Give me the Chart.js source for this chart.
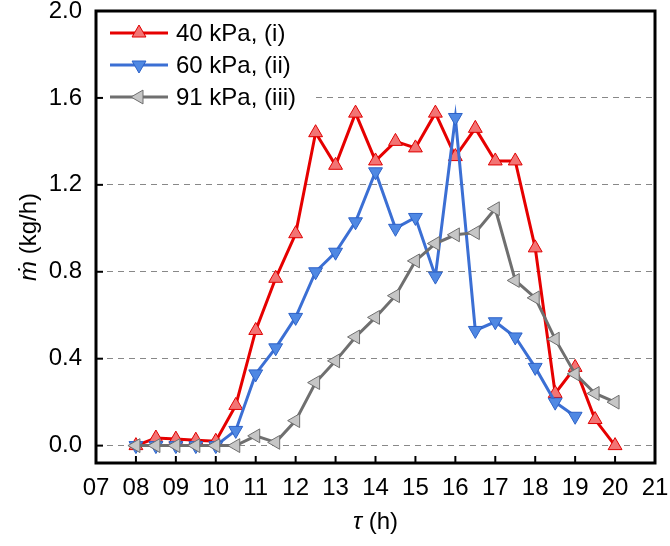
<!DOCTYPE html>
<html lang="en">
<head>
    <meta charset="UTF-8">
    <title>Mass flow rate</title>
    <script src="https://cdn.jsdelivr.net/npm/chart.js"></script>
    <style>
        body { margin: 0; background: #fff; }
        .chart-container { width: 670px; height: 546px; }
    </style>
</head>
<body>
    <div class="chart-container">
        <canvas id="flowChart"></canvas>
    </div>
    <script>
        // time of day [h]
        const times40 = [8, 8.5, 9, 9.5, 10, 10.5, 11, 11.5, 12, 12.5, 13, 13.5, 14, 14.5, 15, 15.5, 16, 16.5, 17, 17.5, 18, 18.5, 19, 19.5, 20];
        const times60 = [8, 8.5, 9, 9.5, 10, 10.5, 11, 11.5, 12, 12.5, 13, 13.5, 14, 14.5, 15, 15.5, 16, 16.5, 17, 17.5, 18, 18.5, 19];
        const times91 = [8, 8.5, 9, 9.5, 10, 10.5, 11, 11.5, 12, 12.5, 13, 13.5, 14, 14.5, 15, 15.5, 16, 16.5, 17, 17.5, 18, 18.5, 19, 19.5, 20];

        // mass flow rate [kg/h]
        const flow40 = [0.0, 0.035, 0.03, 0.025, 0.02, 0.185, 0.53, 0.77, 0.975, 1.44, 1.29, 1.53, 1.31, 1.40, 1.37, 1.53, 1.33, 1.46, 1.31, 1.31, 0.91, 0.24, 0.36, 0.12, 0.0];
        const flow60 = [0.0, 0.0, 0.0, 0.0, 0.0, 0.07, 0.33, 0.45, 0.59, 0.80, 0.89, 1.03, 1.26, 1.00, 1.05, 0.78, 1.51, 0.53, 0.57, 0.50, 0.36, 0.20, 0.135];
        const flow91 = [0.0, 0.0, 0.0, 0.0, 0.0, 0.0, 0.045, 0.015, 0.115, 0.29, 0.39, 0.50, 0.59, 0.69, 0.85, 0.93, 0.97, 0.98, 1.09, 0.76, 0.68, 0.49, 0.33, 0.24, 0.20];

        const seriesLabels = ['40 kPa, (i)', '60 kPa, (ii)', '91 kPa, (iii)'];
        const xTicks = [7, 8, 9, 10, 11, 12, 13, 14, 15, 16, 17, 18, 19, 20, 21];
        const yTicks = [0.0, 0.4, 0.8, 1.2, 1.6, 2.0];

        const FONT = 'Liberation Sans, Arial, sans-serif';

        function toPoints(xs, ys) {
            return xs.map((x, i) => ({ x: x, y: ys[i] }));
        }

        // no extra room for overflowing tick labels, the plot area is fixed by layout padding
        function noLabelPadding(s) {
            s.paddingTop = 0;
            s.paddingBottom = 0;
            s.paddingLeft = 0;
            s.paddingRight = 0;
        }

        function drawMarker(ctx, ds, x, y) {
            ctx.save();
            ctx.fillStyle = ds.pointBackgroundColor;
            ctx.strokeStyle = ds.pointBorderColor;
            ctx.lineWidth = ds.pointBorderWidth;
            Chart.helpers.drawPoint(ctx, {
                pointStyle: ds.pointStyle,
                rotation: ds.pointRotation,
                radius: ds.pointRadius,
                borderWidth: ds.pointBorderWidth
            }, x, y);
            ctx.restore();
        }

        // legend drawn inside the plot, line + marker like the original
        const insideLegend = {
            id: 'insideLegend',
            afterDatasetsDraw(chart) {
                const ctx = chart.ctx;
                const area = chart.chartArea;
                ctx.save();
                ctx.fillStyle = '#fff';
                ctx.fillRect(area.left + 7, area.top + 3, 208, 100);
                const sets = chart.data.datasets;
                sets.forEach((ds, i) => {
                    const y = area.top + 22 + i * 32;
                    ctx.strokeStyle = ds.borderColor;
                    ctx.lineWidth = ds.borderWidth;
                    ctx.beginPath();
                    ctx.moveTo(area.left + 14, y);
                    ctx.lineTo(area.left + 72, y);
                    ctx.stroke();
                    drawMarker(ctx, ds, area.left + 43, y);
                    ctx.fillStyle = '#000';
                    ctx.font = '24px ' + FONT;
                    ctx.textBaseline = 'middle';
                    ctx.textAlign = 'left';
                    ctx.fillText(ds.label, area.left + 80, y + 1);
                });
                ctx.restore();
            }
        };

        // frame, inside ticks and axis titles
        const frameAndTitles = {
            id: 'frameAndTitles',
            afterDraw(chart) {
                const ctx = chart.ctx;
                const area = chart.chartArea;
                const xs = chart.scales.x;
                const ys = chart.scales.y;
                ctx.save();
                ctx.strokeStyle = '#000';
                ctx.lineWidth = 2;
                xTicks.forEach(v => {
                    const px = xs.getPixelForValue(v);
                    ctx.beginPath();
                    ctx.moveTo(px, area.bottom);
                    ctx.lineTo(px, area.bottom - 7);
                    ctx.stroke();
                });
                yTicks.forEach(v => {
                    const py = ys.getPixelForValue(v);
                    ctx.beginPath();
                    ctx.moveTo(area.left, py);
                    ctx.lineTo(area.left + 7, py);
                    ctx.stroke();
                });
                ctx.lineWidth = 3;
                ctx.strokeRect(area.left, area.top, area.right - area.left, area.bottom - area.top);

                // x title: tau (h)
                ctx.fillStyle = '#000';
                ctx.textBaseline = 'middle';
                ctx.textAlign = 'left';
                const italic = 'italic 24px ' + FONT;
                const normal = '24px ' + FONT;
                ctx.font = italic;
                const wTau = ctx.measureText('τ').width;
                ctx.font = normal;
                const wRest = ctx.measureText(' (h)').width;
                let cx = (area.left + area.right) / 2 - (wTau + wRest) / 2;
                ctx.font = italic;
                ctx.fillText('τ', cx, 522);
                ctx.font = normal;
                ctx.fillText(' (h)', cx + wTau, 522);

                // y title: m-dot (kg/h)
                ctx.translate(29, (area.top + area.bottom) / 2);
                ctx.rotate(-Math.PI / 2);
                ctx.font = italic;
                const wM = ctx.measureText('ṁ').width;
                ctx.font = normal;
                const wUnit = ctx.measureText(' (kg/h)').width;
                cx = -(wM + wUnit) / 2;
                ctx.font = italic;
                ctx.fillText('ṁ', cx, 0);
                ctx.font = normal;
                ctx.fillText(' (kg/h)', cx + wM, 0);
                ctx.restore();
            }
        };

        const ctx = document.getElementById('flowChart').getContext('2d');
        const flowChart = new Chart(ctx, {
            type: 'line',
            data: {
                datasets: [{
                    label: seriesLabels[0],
                    data: toPoints(times40, flow40),
                    borderColor: '#E60000',
                    borderWidth: 3,
                    pointStyle: 'triangle',
                    pointRotation: 0,
                    pointRadius: 8,
                    pointBackgroundColor: '#F27474',
                    pointBorderColor: '#E00000',
                    pointBorderWidth: 1,
                    order: 3
                }, {
                    label: seriesLabels[1],
                    data: toPoints(times60, flow60),
                    borderColor: '#3B6FD4',
                    borderWidth: 3,
                    pointStyle: 'triangle',
                    pointRotation: 180,
                    pointRadius: 8,
                    pointBackgroundColor: '#4F88E3',
                    pointBorderColor: '#2D62C8',
                    pointBorderWidth: 1,
                    order: 2
                }, {
                    label: seriesLabels[2],
                    data: toPoints(times91, flow91),
                    borderColor: '#6F6F6F',
                    borderWidth: 3,
                    pointStyle: 'triangle',
                    pointRotation: 270,
                    pointRadius: 8,
                    pointBackgroundColor: '#C6C6C6',
                    pointBorderColor: '#6E6E6E',
                    pointBorderWidth: 1,
                    order: 1
                }]
            },
            options: {
                responsive: true,
                maintainAspectRatio: false,
                animation: false,
                layout: { padding: { top: 11, right: 15, left: 0, bottom: 0 } },
                plugins: {
                    legend: { display: false },
                    tooltip: { enabled: false }
                },
                elements: { line: { tension: 0, fill: false } },
                scales: {
                    x: {
                        type: 'linear',
                        min: 7,
                        max: 21,
                        afterBuildTicks: s => { s.ticks = xTicks.map(v => ({ value: v })); },
                        afterFit: s => { s.height = 83; noLabelPadding(s); },
                        grid: { display: false, drawTicks: false },
                        border: { display: false },
                        ticks: {
                            padding: 11,
                            color: '#000',
                            font: { family: FONT, size: 24 },
                            maxRotation: 0,
                            callback: v => String(v).padStart(2, '0')
                        }
                    },
                    y: {
                        min: -0.08,
                        max: 2.0,
                        afterBuildTicks: s => { s.ticks = yTicks.map(v => ({ value: v })); },
                        afterFit: s => { s.width = 96; noLabelPadding(s); },
                        grid: { color: '#888', lineWidth: 1, drawTicks: false },
                        border: { display: false, dash: [6, 5] },
                        ticks: {
                            padding: 14,
                            color: '#000',
                            font: { family: FONT, size: 24 },
                            callback: v => v.toFixed(1)
                        }
                    }
                }
            },
            plugins: [insideLegend, frameAndTitles]
        });
    </script>
</body>
</html>
